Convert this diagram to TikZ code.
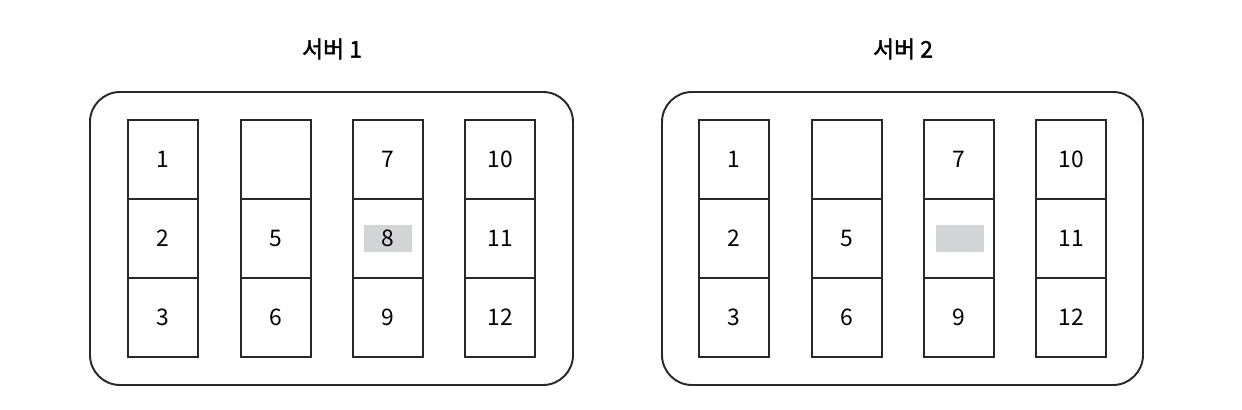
\documentclass[tikz,border=0pt]{standalone}
\usepackage{fontspec}
\setmainfont{Noto Sans CJK KR}
\newfontfamily\krtitle[FakeBold=2]{Noto Sans CJK KR}
\usepackage{tikz}
\definecolor{slotgray}{RGB}{211,212,214}
\definecolor{linegray}{RGB}{40,40,40}
\tikzset{
  cell/.style={draw=linegray, line width=1.1pt, minimum width=1.4cm, minimum height=1.58cm, inner sep=0pt, font=\fontsize{13}{15}\selectfont},
  marked/.style={fill=slotgray, minimum width=0.96cm, minimum height=0.52cm, inner sep=0pt, font=\fontsize{13}{15}\selectfont},
  server/.style={draw=linegray, line width=1.1pt, rounded corners=0.6cm},
  title/.style={font=\krtitle\fontsize{13}{15}\selectfont}
}

\begin{document}
\begin{tikzpicture}
\useasboundingbox (0cm,0cm) rectangle (24.84cm,-8.2cm);
% server 1
\draw[server] (1.8cm,-1.84cm) rectangle (11.46cm,-7.7cm);
\node[title] (t1) at (6.64cm,-0.98cm) {서버 1};
\node[marked] (m1) at (7.76cm,-4.77cm) {};
\node[cell] (a1) at (3.26cm,-3.19cm) {1};
\node[cell] (a2) at (3.26cm,-4.77cm) {2};
\node[cell] (a3) at (3.26cm,-6.35cm) {3};
\node[cell] (a4) at (5.52cm,-3.19cm) {};
\node[cell] (a5) at (5.52cm,-4.77cm) {5};
\node[cell] (a6) at (5.52cm,-6.35cm) {6};
\node[cell] (a7) at (7.76cm,-3.19cm) {7};
\node[cell] (a8) at (7.76cm,-4.77cm) {8};
\node[cell] (a9) at (7.76cm,-6.35cm) {9};
\node[cell] (a10) at (10.0cm,-3.19cm) {10};
\node[cell] (a11) at (10.0cm,-4.77cm) {11};
\node[cell] (a12) at (10.0cm,-6.35cm) {12};
% server 2
\draw[server] (13.24cm,-1.84cm) rectangle (22.86cm,-7.7cm);
\node[title] (t2) at (18.06cm,-0.98cm) {서버 2};
\node[marked] (m2) at (19.2cm,-4.77cm) {};
\node[cell] (b1) at (14.68cm,-3.19cm) {1};
\node[cell] (b2) at (14.68cm,-4.77cm) {2};
\node[cell] (b3) at (14.68cm,-6.35cm) {3};
\node[cell] (b4) at (16.94cm,-3.19cm) {};
\node[cell] (b5) at (16.94cm,-4.77cm) {5};
\node[cell] (b6) at (16.94cm,-6.35cm) {6};
\node[cell] (b7) at (19.18cm,-3.19cm) {7};
\node[cell] (b8) at (19.18cm,-4.77cm) {};
\node[cell] (b9) at (19.18cm,-6.35cm) {9};
\node[cell] (b10) at (21.42cm,-3.19cm) {10};
\node[cell] (b11) at (21.42cm,-4.77cm) {11};
\node[cell] (b12) at (21.42cm,-6.35cm) {12};
\end{tikzpicture}
\end{document}
